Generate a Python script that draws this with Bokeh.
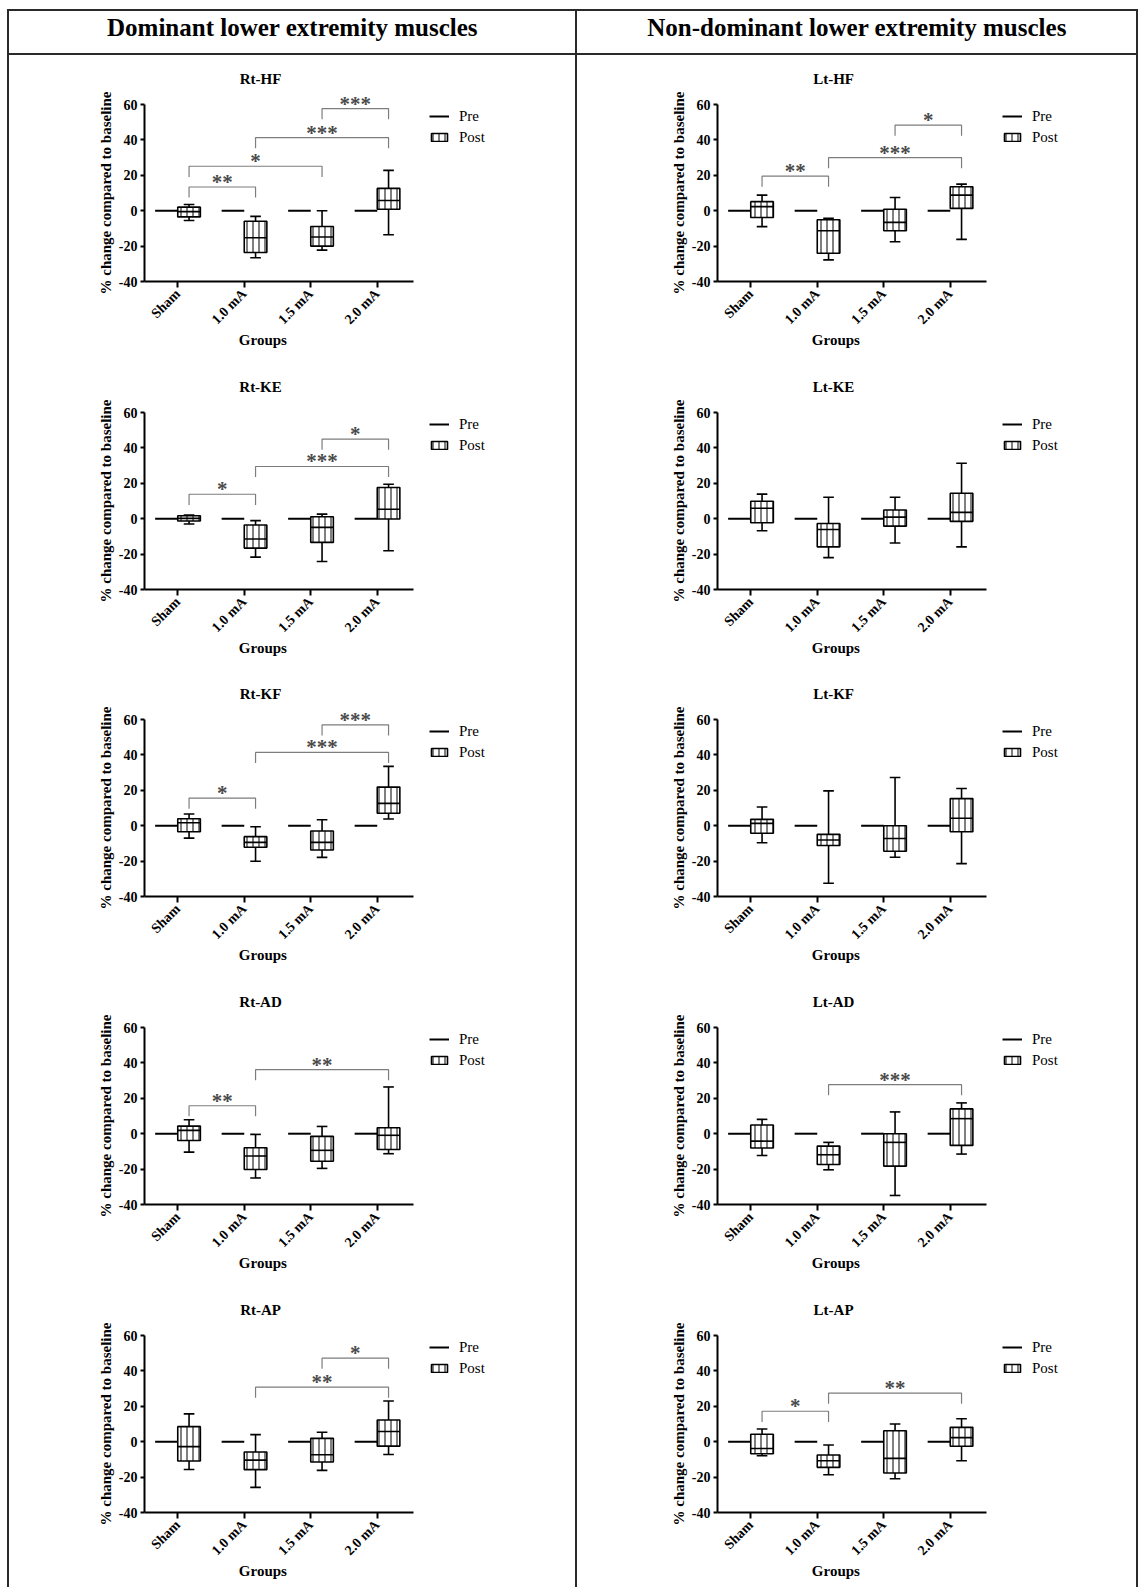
import math
from bokeh.plotting import figure
from bokeh.models import Range1d, FixedTicker, Label, Legend, LegendItem, ColumnDataSource, Div, Spacer
from bokeh.layouts import row, column
from bokeh.embed import file_html
from bokeh.resources import INLINE
from bokeh.core.properties import value

# ---------------- data ----------------
GROUPS = ["Sham", "1.0 mA", "1.5 mA", "2.0 mA"]
HEADERS = ["Dominant lower extremity muscles", "Non-dominant lower extremity muscles"]
TITLES_LEFT = ["Rt-HF", "Rt-KE", "Rt-KF", "Rt-AD", "Rt-AP"]
TITLES_RIGHT = ["Lt-HF", "Lt-KE", "Lt-KF", "Lt-AD", "Lt-AP"]
Y_LABEL = "% change compared to baseline"
X_LABEL = "Groups"
Y_TICKS = [-40, -20, 0, 20, 40, 60]
Y_TICK_LABELS = ["-40", "-20", "0", "20", "40", "60"]
PRE = [0, 0, 0, 0]  # Pre = baseline (0 % change)

# Post: whisker min, Q1, median, Q3, whisker max (per group)
rt_hf_min = [-5.5, -26.6, -22.3, -13.6]
rt_hf_q1 = [-3.5, -23.6, -20.0, 0.8]
rt_hf_med = [-0.5, -15.3, -14.9, 5.8]
rt_hf_q3 = [2.0, -6.0, -8.9, 12.6]
rt_hf_max = [3.5, -3.2, 0.0, 22.8]
rt_hf_sig_a = [0, 0, 1, 2]
rt_hf_sig_b = [1, 2, 3, 3]
rt_hf_sig_y = [13.4, 25.1, 41.3, 57.7]
rt_hf_sig_t = ["**", "*", "***", "***"]

lt_hf_min = [-9.0, -27.8, -17.5, -16.2]
lt_hf_q1 = [-3.8, -24.0, -11.3, 1.3]
lt_hf_med = [2.3, -11.3, -6.6, 8.8]
lt_hf_q3 = [5.1, -5.1, 0.8, 13.5]
lt_hf_max = [8.8, -4.3, 7.5, 15.0]
lt_hf_sig_a = [0, 1, 2]
lt_hf_sig_b = [1, 3, 3]
lt_hf_sig_y = [19.5, 30.0, 48.3]
lt_hf_sig_t = ["**", "***", "*"]

rt_ke_min = [-3.0, -21.7, -24.2, -18.1]
rt_ke_q1 = [-1.3, -16.6, -13.4, -0.2]
rt_ke_med = [0.2, -11.5, -4.9, 5.3]
rt_ke_q3 = [1.7, -3.6, 1.1, 17.6]
rt_ke_max = [2.1, -1.1, 2.6, 19.5]
rt_ke_sig_a = [0, 1, 2]
rt_ke_sig_b = [1, 3, 3]
rt_ke_sig_y = [13.8, 29.5, 45.0]
rt_ke_sig_t = ["*", "***", "*"]

lt_ke_min = [-6.8, -22.0, -13.7, -15.9]
lt_ke_q1 = [-2.3, -15.9, -4.2, -1.5]
lt_ke_med = [5.9, -6.1, 0.9, 3.6]
lt_ke_q3 = [9.9, -2.7, 4.9, 14.4]
lt_ke_max = [13.9, 12.1, 12.1, 31.3]
lt_ke_sig_a = []
lt_ke_sig_b = []
lt_ke_sig_y = []
lt_ke_sig_t = []

rt_kf_min = [-7.0, -20.1, -17.9, 3.8]
rt_kf_q1 = [-3.4, -12.2, -13.7, 7.0]
rt_kf_med = [1.7, -9.4, -9.4, 12.6]
rt_kf_q3 = [3.9, -6.2, -3.0, 21.8]
rt_kf_max = [6.6, -0.6, 3.4, 33.5]
rt_kf_sig_a = [0, 1, 2]
rt_kf_sig_b = [1, 3, 3]
rt_kf_sig_y = [15.6, 41.4, 57.0]
rt_kf_sig_t = ["*", "***", "***"]

lt_kf_min = [-9.6, -32.5, -17.8, -21.4]
lt_kf_q1 = [-4.3, -11.2, -14.4, -3.4]
lt_kf_med = [1.3, -8.1, -7.2, 4.2]
lt_kf_q3 = [3.6, -4.9, 0.0, 15.3]
lt_kf_max = [10.6, 19.7, 27.2, 21.0]
lt_kf_sig_a = []
lt_kf_sig_b = []
lt_kf_sig_y = []
lt_kf_sig_t = []

rt_ad_min = [-10.4, -25.0, -19.6, -11.3]
rt_ad_q1 = [-3.8, -20.2, -15.6, -8.9]
rt_ad_med = [1.9, -12.6, -9.4, -0.9]
rt_ad_q3 = [4.3, -7.9, -1.5, 3.4]
rt_ad_max = [7.9, -0.4, 4.1, 26.4]
rt_ad_sig_a = [0, 1]
rt_ad_sig_b = [1, 3]
rt_ad_sig_y = [15.8, 36.2]
rt_ad_sig_t = ["**", "**"]

lt_ad_min = [-12.3, -20.4, -34.9, -11.5]
lt_ad_q1 = [-8.1, -17.4, -18.3, -6.6]
lt_ad_med = [-4.2, -11.9, -4.9, 8.5]
lt_ad_q3 = [4.9, -7.0, 0.0, 14.0]
lt_ad_max = [8.1, -4.9, 12.3, 17.4]
lt_ad_sig_a = [1]
lt_ad_sig_b = [3]
lt_ad_sig_y = [27.7]
lt_ad_sig_t = ["***"]

rt_ap_min = [-15.7, -25.8, -16.2, -7.2]
rt_ap_q1 = [-10.9, -15.8, -11.5, -2.5]
rt_ap_med = [-2.8, -10.4, -7.4, 5.8]
rt_ap_q3 = [8.5, -5.8, 1.9, 12.3]
rt_ap_max = [15.7, 4.0, 5.3, 23.0]
rt_ap_sig_a = [1, 2]
rt_ap_sig_b = [3, 3]
rt_ap_sig_y = [30.8, 47.2]
rt_ap_sig_t = ["**", "*"]

lt_ap_min = [-7.9, -18.7, -20.9, -10.8]
lt_ap_q1 = [-6.8, -14.5, -17.7, -2.6]
lt_ap_med = [-3.8, -10.8, -9.4, 2.3]
lt_ap_q3 = [4.2, -7.5, 6.2, 8.1]
lt_ap_max = [7.2, -1.9, 10.0, 13.0]
lt_ap_sig_a = [0, 1]
lt_ap_sig_b = [1, 3]
lt_ap_sig_y = [17.2, 27.5]
lt_ap_sig_t = ["*", "**"]

LEFT_PANELS = [
    (rt_hf_min, rt_hf_q1, rt_hf_med, rt_hf_q3, rt_hf_max, rt_hf_sig_a, rt_hf_sig_b, rt_hf_sig_y, rt_hf_sig_t),
    (rt_ke_min, rt_ke_q1, rt_ke_med, rt_ke_q3, rt_ke_max, rt_ke_sig_a, rt_ke_sig_b, rt_ke_sig_y, rt_ke_sig_t),
    (rt_kf_min, rt_kf_q1, rt_kf_med, rt_kf_q3, rt_kf_max, rt_kf_sig_a, rt_kf_sig_b, rt_kf_sig_y, rt_kf_sig_t),
    (rt_ad_min, rt_ad_q1, rt_ad_med, rt_ad_q3, rt_ad_max, rt_ad_sig_a, rt_ad_sig_b, rt_ad_sig_y, rt_ad_sig_t),
    (rt_ap_min, rt_ap_q1, rt_ap_med, rt_ap_q3, rt_ap_max, rt_ap_sig_a, rt_ap_sig_b, rt_ap_sig_y, rt_ap_sig_t),
]
RIGHT_PANELS = [
    (lt_hf_min, lt_hf_q1, lt_hf_med, lt_hf_q3, lt_hf_max, lt_hf_sig_a, lt_hf_sig_b, lt_hf_sig_y, lt_hf_sig_t),
    (lt_ke_min, lt_ke_q1, lt_ke_med, lt_ke_q3, lt_ke_max, lt_ke_sig_a, lt_ke_sig_b, lt_ke_sig_y, lt_ke_sig_t),
    (lt_kf_min, lt_kf_q1, lt_kf_med, lt_kf_q3, lt_kf_max, lt_kf_sig_a, lt_kf_sig_b, lt_kf_sig_y, lt_kf_sig_t),
    (lt_ad_min, lt_ad_q1, lt_ad_med, lt_ad_q3, lt_ad_max, lt_ad_sig_a, lt_ad_sig_b, lt_ad_sig_y, lt_ad_sig_t),
    (lt_ap_min, lt_ap_q1, lt_ap_med, lt_ap_q3, lt_ap_max, lt_ap_sig_a, lt_ap_sig_b, lt_ap_sig_y, lt_ap_sig_t),
]

# ---------------- layout / style constants ----------------
SERIF = "Liberation Serif"
LINE = "#2a2a2a"
OFF_X, OFF_Y = 7, 9
COL_W = [566, 559]
ROW_HS = [308, 307, 308, 308, 301]
HDR_H = 42
AXIS_LEFT = [135, 140]   # y axis position inside a cell
XAXIS_Y = 226            # x axis position from cell top
PAD = 2
PPX = 66.5      # px per category unit
PPY = 1.77      # px per % unit
BOX_OFF = 0.17
BOX_W = 0.34
CAP_W = 0.16
LEG = 6.0


def make_panel(title, stats, col, H):
    mn, q1, med, q3, mx, sa, sb, sy, st = stats
    W = COL_W[col]
    left = AXIS_LEFT[col]
    x_lo = -(left - PAD) / PPX
    x_hi = (W - PAD - left) / PPX
    y_hi = -40 + (XAXIS_Y - PAD) / PPY
    y_lo = -40 - (H - PAD - XAXIS_Y) / PPY
    p = figure(width=W, height=H,
               x_range=Range1d(x_lo, x_hi), y_range=Range1d(y_lo, y_hi),
               toolbar_location=None, output_backend="svg",
               min_border_left=PAD, min_border_right=PAD,
               min_border_top=PAD, min_border_bottom=PAD)
    p.outline_line_color = None
    p.xgrid.visible = False
    p.ygrid.visible = False
    p.background_fill_color = "white"
    p.border_fill_color = "white"

    cats = [i + 0.5 for i in range(len(GROUPS))]
    pc = [c + BOX_OFF for c in cats]
    prc = [c - BOX_OFF for c in cats]
    src = ColumnDataSource(dict(
        pc=pc,
        bl=[c - BOX_W / 2 for c in pc], br=[c + BOX_W / 2 for c in pc],
        cl=[c - CAP_W / 2 for c in pc], cr=[c + CAP_W / 2 for c in pc],
        pl=[c - BOX_W / 2 for c in prc], pr=[c + BOX_W / 2 for c in prc],
        pre=PRE, mn=mn, q1=q1, med=med, q3=q3, mx=mx))

    pre_r = p.segment(x0="pl", y0="pre", x1="pr", y1="pre", source=src,
                      line_color="black", line_width=2)
    p.segment(x0="pc", y0="mn", x1="pc", y1="q1", source=src, line_color="black", line_width=1.6)
    p.segment(x0="pc", y0="q3", x1="pc", y1="mx", source=src, line_color="black", line_width=1.6)
    p.segment(x0="cl", y0="mn", x1="cr", y1="mn", source=src, line_color="black", line_width=1.6)
    p.segment(x0="cl", y0="mx", x1="cr", y1="mx", source=src, line_color="black", line_width=1.6)
    box = p.quad(left="bl", right="br", top="q3", bottom="q1", source=src,
                 fill_color="white", line_color="black", line_width=1.6,
                 hatch_pattern="vertical_line", hatch_scale=6, hatch_weight=1,
                 hatch_color="black")
    p.segment(x0="bl", y0="med", x1="br", y1="med", source=src, line_color="black", line_width=1.6)

    # significance brackets
    if sa:
        bxs = [[pc[a], pc[a], pc[b], pc[b]] for a, b in zip(sa, sb)]
        bys = [[y - LEG, y, y, y - LEG] for y in sy]
        p.multi_line(xs=bxs, ys=bys, line_color="#7d7d7d", line_width=1.2)
        ssrc = ColumnDataSource(dict(x=[(pc[a] + pc[b]) / 2 for a, b in zip(sa, sb)], y=sy, t=st))
        p.text(x="x", y="y", text="t", source=ssrc, text_align="center",
               text_baseline="middle", text_font=value(SERIF), text_font_size="21px",
               text_font_style="bold", text_color="#4a4a4a", y_offset=-5)

    # axes (fixed at the data origin of the box plot)
    ya = p.yaxis[0]
    ya.fixed_location = 0
    ya.bounds = (-40, 60)
    ya.ticker = FixedTicker(ticks=Y_TICKS)
    ya.major_label_overrides = {t: s for t, s in zip(Y_TICKS, Y_TICK_LABELS)}
    ya.axis_line_width = 2
    ya.major_tick_line_width = 2
    ya.major_tick_out = 4
    ya.major_tick_in = 0
    ya.minor_tick_out = 0
    ya.minor_tick_in = 0
    ya.major_label_standoff = 3
    ya.major_label_text_font = SERIF
    ya.major_label_text_font_style = "bold"
    ya.major_label_text_font_size = "14px"
    ya.major_label_text_color = "black"

    xa = p.xaxis[0]
    xa.fixed_location = -40
    xa.bounds = (0, 4.05)
    xa.ticker = FixedTicker(ticks=cats)
    xa.major_label_overrides = {c: g for c, g in zip(cats, GROUPS)}
    xa.major_label_orientation = math.pi / 4
    xa.axis_line_width = 2
    xa.major_tick_line_width = 2
    xa.major_tick_out = 6
    xa.major_tick_in = 0
    xa.minor_tick_out = 0
    xa.minor_tick_in = 0
    xa.major_label_standoff = 4
    xa.major_label_text_font = SERIF
    xa.major_label_text_font_style = "bold"
    xa.major_label_text_font_size = "14px"
    xa.major_label_text_color = "black"

    # title, axis labels (inside the frame)
    lbl = dict(text_font=SERIF, text_font_style="bold", text_font_size="15px",
               text_color="black", text_align="center", text_baseline="middle")
    p.add_layout(Label(x=1.745, y=-40 + (XAXIS_Y - 23) / PPY, text=title, **lbl))
    p.add_layout(Label(x=1.78, y=-40 - 58 / PPY, text=X_LABEL, **lbl))
    p.add_layout(Label(x=-39 / PPX, y=10, text=Y_LABEL, angle=math.pi / 2, **lbl))

    legend = Legend(items=[LegendItem(label="Pre", renderers=[pre_r]),
                           LegendItem(label="Post", renderers=[box])],
                    location=(left - PAD + 285, (H - PAD) - 92),
                    orientation="vertical",
                    label_text_font=SERIF, label_text_font_size="15px",
                    label_text_color="black",
                    glyph_width=20, glyph_height=10, label_height=20,
                    label_standoff=10, spacing=1, padding=0, margin=0,
                    border_line_color=None, background_fill_alpha=0)
    p.add_layout(legend)
    return p


def header(text, w):
    p = figure(width=w, height=HDR_H, x_range=Range1d(0, w), y_range=Range1d(0, HDR_H),
               x_axis_type=None, y_axis_type=None, toolbar_location=None,
               output_backend="svg", min_border=0)
    p.outline_line_color = None
    p.add_layout(Label(x=w / 2, y=HDR_H - 16, text=text, text_align="center",
                       text_baseline="alphabetic", text_font=SERIF,
                       text_font_style="bold", text_font_size="25px", text_color="black"))
    return p


def vline(h):
    return Div(text="", width=2, height=h, margin=0, styles={"background-color": LINE})


def hline(w):
    return Div(text="", width=w, height=2, margin=0, styles={"background-color": LINE})


TOTAL_W = 2 + COL_W[0] + 2 + COL_W[1] + 2
BODY_H = sum(ROW_HS)

left_figs = [make_panel(t, s, 0, h) for t, s, h in zip(TITLES_LEFT, LEFT_PANELS, ROW_HS)]
right_figs = [make_panel(t, s, 1, h) for t, s, h in zip(TITLES_RIGHT, RIGHT_PANELS, ROW_HS)]

table = column(
    hline(TOTAL_W),
    row(vline(HDR_H), header(HEADERS[0], COL_W[0]), vline(HDR_H), header(HEADERS[1], COL_W[1]), vline(HDR_H)),
    hline(TOTAL_W),
    row(vline(BODY_H), column(*left_figs), vline(BODY_H), column(*right_figs), vline(BODY_H)),
)
layout = row(Spacer(width=OFF_X, height=10, margin=0),
             column(Spacer(width=10, height=OFF_Y, margin=0), table))

open("out.html", "w").write(file_html(layout, INLINE, title="Muscle % change"))
